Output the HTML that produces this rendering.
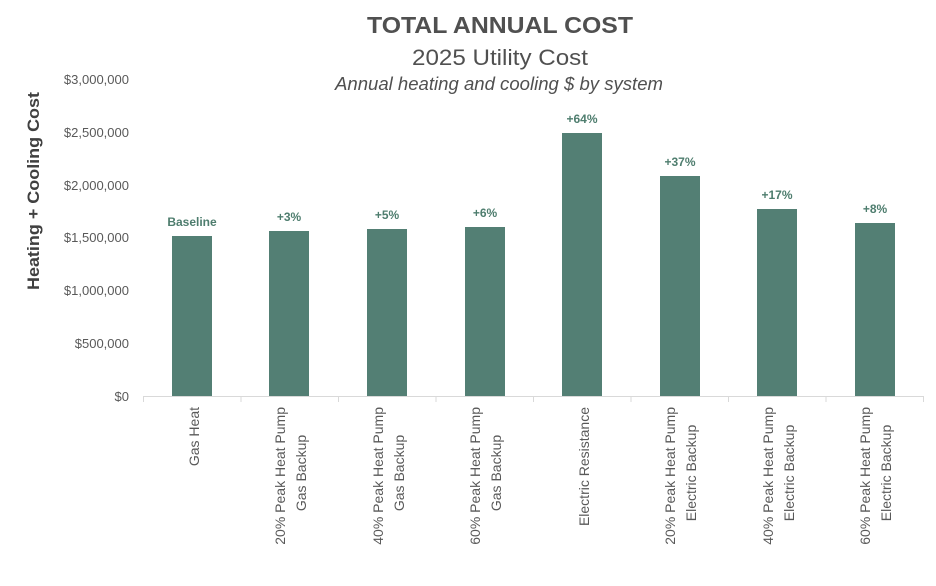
<!DOCTYPE html>
<html><head><meta charset="utf-8"><style>body{margin:0;background:#fff}svg{display:block}</style></head>
<body>
<svg width="936" height="586" xmlns="http://www.w3.org/2000/svg" font-family="Liberation Sans, sans-serif">
<text x="500" y="33" text-anchor="middle" font-size="23" font-weight="bold" fill="#505050" textLength="266" lengthAdjust="spacingAndGlyphs">TOTAL ANNUAL COST</text>
<text x="500" y="65" text-anchor="middle" font-size="22" fill="#505050" textLength="176" lengthAdjust="spacingAndGlyphs">2025 Utility Cost</text>
<text x="499" y="90" text-anchor="middle" font-size="18" font-style="italic" fill="#505050" textLength="328" lengthAdjust="spacingAndGlyphs">Annual heating and cooling $ by system</text>
<text transform="translate(39,191) rotate(-90)" text-anchor="middle" font-size="17" font-weight="bold" fill="#404040" textLength="198" lengthAdjust="spacingAndGlyphs">Heating + Cooling Cost</text>
<g font-size="13" fill="#595959" text-anchor="end">
<text x="129" y="84">$3,000,000</text>
<text x="129" y="137">$2,500,000</text>
<text x="129" y="190">$2,000,000</text>
<text x="129" y="242">$1,500,000</text>
<text x="129" y="295">$1,000,000</text>
<text x="129" y="348">$500,000</text>
<text x="129" y="401">$0</text>
</g>
<g fill="#537F74">
<rect x="172" y="236" width="40" height="160"/>
<rect x="269" y="231" width="40" height="165"/>
<rect x="367" y="229" width="40" height="167"/>
<rect x="465" y="227" width="40" height="169"/>
<rect x="562" y="133" width="40" height="263"/>
<rect x="660" y="176" width="40" height="220"/>
<rect x="757" y="209" width="40" height="187"/>
<rect x="855" y="223" width="40" height="173"/>
</g>
<g font-size="12" font-weight="bold" fill="#4E7D6E" text-anchor="middle">
<text x="192" y="226">Baseline</text>
<text x="289" y="221">+3%</text>
<text x="387" y="219">+5%</text>
<text x="485" y="217">+6%</text>
<text x="582" y="123">+64%</text>
<text x="680" y="166">+37%</text>
<text x="777" y="199">+17%</text>
<text x="875" y="213">+8%</text>
</g>
<g stroke="#d9d9d9" stroke-width="1">
<line x1="143" y1="396.5" x2="924" y2="396.5"/>
<line x1="143.5" y1="396" x2="143.5" y2="402"/>
<line x1="241" y1="396" x2="241" y2="402"/>
<line x1="338.5" y1="396" x2="338.5" y2="402"/>
<line x1="436" y1="396" x2="436" y2="402"/>
<line x1="533.5" y1="396" x2="533.5" y2="402"/>
<line x1="631" y1="396" x2="631" y2="402"/>
<line x1="728.5" y1="396" x2="728.5" y2="402"/>
<line x1="826" y1="396" x2="826" y2="402"/>
<line x1="923.5" y1="396" x2="923.5" y2="402"/>
</g>
<g font-size="14" fill="#595959" text-anchor="end">
<text transform="translate(199,407) rotate(-90)">Gas Heat</text>
<text transform="translate(285,407) rotate(-90)">20% Peak Heat Pump</text>
<text transform="translate(306,407) rotate(-90)" text-anchor="middle" dx="-66">Gas Backup</text>
<text transform="translate(383,407) rotate(-90)">40% Peak Heat Pump</text>
<text transform="translate(404,407) rotate(-90)" text-anchor="middle" dx="-66">Gas Backup</text>
<text transform="translate(480,407) rotate(-90)">60% Peak Heat Pump</text>
<text transform="translate(501,407) rotate(-90)" text-anchor="middle" dx="-66">Gas Backup</text>
<text transform="translate(589,407) rotate(-90)">Electric Resistance</text>
<text transform="translate(675,407) rotate(-90)">20% Peak Heat Pump</text>
<text transform="translate(696,407) rotate(-90)" text-anchor="middle" dx="-66">Electric Backup</text>
<text transform="translate(773,407) rotate(-90)">40% Peak Heat Pump</text>
<text transform="translate(794,407) rotate(-90)" text-anchor="middle" dx="-66">Electric Backup</text>
<text transform="translate(870,407) rotate(-90)">60% Peak Heat Pump</text>
<text transform="translate(891,407) rotate(-90)" text-anchor="middle" dx="-66">Electric Backup</text>
</g>
</svg>
</body></html>
